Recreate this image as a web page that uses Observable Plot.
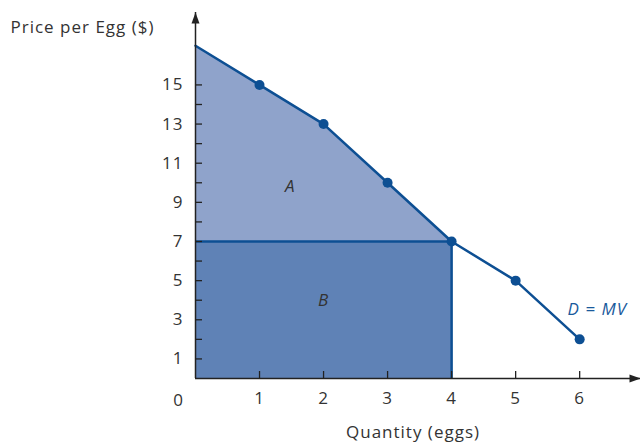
<!DOCTYPE html>
<html><head><meta charset="utf-8">
<script src="https://cdn.jsdelivr.net/npm/d3@7"></script>
<script src="https://cdn.jsdelivr.net/npm/@observablehq/plot@0.6"></script>
<style>body{margin:0;background:#fff}</style>
</head><body><div id="chart"></div>
<script>
// Data
const quantity = [0, 1, 2, 3, 4, 5, 6];
const price = [17, 15, 13, 10, 7, 5, 2];
const chosenQuantity = 4;
const chosenPrice = 7;
const yTickLabels = [1, 3, 5, 7, 9, 11, 13, 15];
const yTickMarks = [1, 2, 3, 4, 5, 6, 7, 8, 9, 10, 11, 12, 13, 14, 15];
const xTickLabels = [1, 2, 3, 4, 5, 6];
const xMax = 6.95, yMax = 18.7;
const areaLabels = [{q: 1.48, p: 9.8, t: "A"}, {q: 2.0, p: 4.0, t: "B"}];
const curveLabel = [{q: 5.81, p: 3.5, t: "D = MV"}];
const yTitle = "Price per Egg ($)";
const xTitle = "Quantity (eggs)";

const demand = quantity.map((q, i) => ({q, p: price[i]}));
const areaA = demand.filter(d => d.q <= chosenQuantity);
const dots = demand.filter(d => d.q > 0);

const font = "'Open Sans', Lato, sans-serif";
const blue = "#0d4f93";
const ink = "#222";
const fs = 17;

const chart = Plot.plot({
  width: 640, height: 448,
  marginLeft: 195, marginRight: 0, marginTop: 12, marginBottom: 70,
  style: {fontFamily: font, fontSize: fs + "px", color: "#333", background: "#fff", letterSpacing: "1px"},
  x: {domain: [0, xMax], axis: null},
  y: {domain: [0, yMax], axis: null},
  marks: [
    Plot.rectY([chosenPrice], {x1: 0, x2: chosenQuantity, y1: 0, y2: d => d, fill: "#5f82b6"}),
    Plot.areaY(areaA, {x: "q", y1: chosenPrice, y2: "p", fill: "#8fa3cb"}),
    Plot.ruleY([chosenPrice], {x1: 0, x2: chosenQuantity, stroke: blue, strokeWidth: 2.5}),
    Plot.ruleX([chosenQuantity], {y1: 0, y2: chosenPrice, stroke: blue, strokeWidth: 2.5}),
    Plot.line(demand, {x: "q", y: "p", stroke: blue, strokeWidth: 2.5}),
    Plot.dot(dots, {x: "q", y: "p", r: 5, fill: blue}),
    // axes lines
    Plot.ruleX([0], {stroke: ink, strokeWidth: 1.5}),
    Plot.ruleY([0], {stroke: ink, strokeWidth: 1.5}),
    Plot.vector([{x: 0, y: yMax}], {x: "x", y: "y", anchor: "end", length: 11, r: 4, shape: "spike", fill: ink, stroke: "none", rotate: 0}),
    Plot.vector([{x: xMax, y: 0}], {x: "x", y: "y", anchor: "end", length: 11, r: 4, shape: "spike", fill: ink, stroke: "none", rotate: 90}),
    // inward ticks
    Plot.axisY({ticks: yTickMarks, tickSize: 7, insetLeft: 7, tickFormat: () => "", stroke: ink, strokeWidth: 1.3, label: null}),
    Plot.axisX({ticks: xTickLabels, tickSize: 7, insetBottom: 7, tickFormat: () => "", stroke: ink, strokeWidth: 1.3, label: null}),
    // tick labels
    Plot.axisY({ticks: yTickLabels, tickSize: 0, tickPadding: 12, tickFormat: d => d, fontSize: fs, label: null, fill: "#333"}),
    Plot.axisX({ticks: xTickLabels, tickSize: 0, tickPadding: 13, tickFormat: d => d, fontSize: fs, label: null, fill: "#333"}),
    Plot.text(["0"], {x: 0, y: 0, text: d => d, dx: -17, dy: 22, fontSize: fs, fill: "#333"}),
    // area & curve labels
    Plot.text(areaLabels, {x: "q", y: "p", text: "t", fontStyle: "italic", fontSize: fs, fill: "#333"}),
    Plot.text(curveLabel, {x: "q", y: "p", text: "t", fontStyle: "italic", fontSize: fs, fill: "#1a5a9c", textAnchor: "start"}),
    // titles
    Plot.text([yTitle], {frameAnchor: "top-left", text: d => d, dx: -185, dy: 8, fontSize: fs, textAnchor: "start", fill: "#333"}),
    Plot.text([xTitle], {frameAnchor: "bottom", text: d => d, dx: -5, dy: 59, fontSize: fs, fill: "#333"})
  ]
});
document.getElementById("chart").appendChild(chart);
</script>
</body></html>
